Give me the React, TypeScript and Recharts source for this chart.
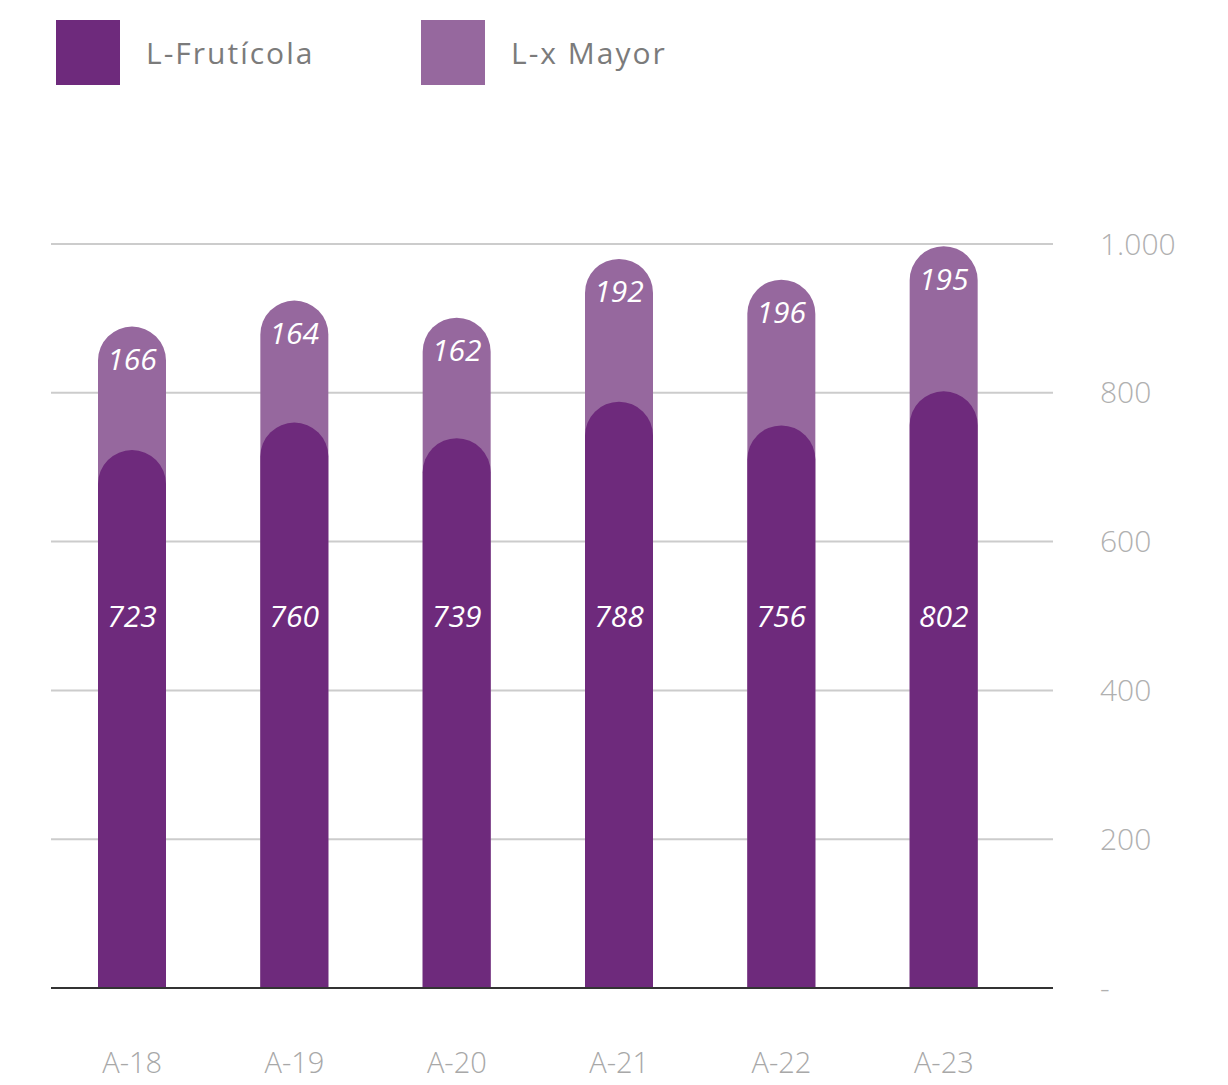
import React from 'react';
import { BarChart, Bar, XAxis, YAxis, CartesianGrid, LabelList } from 'recharts';

const years = ['A-18', 'A-19', 'A-20', 'A-21', 'A-22', 'A-23'];
const fruticola = [723, 760, 739, 788, 756, 802];
const mayor = [166, 164, 162, 192, 196, 195];
const yTicks = [0, 200, 400, 600, 800, 1000];

const DARK = '#6e2a7c';
const LIGHT = '#96689e';
const FONT = '"Open Sans", sans-serif';

const data = years.map((name, i) => ({
  name,
  fruticola: fruticola[i],
  mayor: mayor[i],
  total: fruticola[i] + mayor[i],
}));

const fmtTick = (v: number) => (v === 0 ? '-' : String(v).replace(/\B(?=(\d{3})+(?!\d))/g, '.'));

const DarkLabel = (props: any) => {
  const { x, y, width, height, value } = props;
  return (
    <text x={x + width / 2} y={y + height - 373} fill="#fff" fontSize={30} fontStyle="italic"
      fontFamily={FONT} textAnchor="middle" dominantBaseline="central">
      {value}
    </text>
  );
};

const LightLabel = (props: any) => {
  const { x, y, width, value } = props;
  return (
    <text x={x + width / 2} y={y + 32} fill="#fff" fontSize={30} fontStyle="italic"
      fontFamily={FONT} textAnchor="middle" dominantBaseline="central">
      {value}
    </text>
  );
};

const legendItems = [
  { label: 'L-Frutícola', color: DARK, left: 48 },
  { label: 'L-x Mayor', color: LIGHT, left: 413 },
];

export default function App() {
  return (
    <div style={{ position: 'relative', width: 1212, height: 1077, fontFamily: FONT }}>
      {legendItems.map((it) => (
        <div key={it.label} style={{ position: 'absolute', left: it.left, top: 12, display: 'flex', alignItems: 'center' }}>
          <div style={{ width: 64, height: 65, background: it.color }} />
          <span style={{ marginLeft: 26, fontSize: 30, color: '#7b7b7b', letterSpacing: 2 }}>{it.label}</span>
        </div>
      ))}
      <BarChart
        width={1212}
        height={1077}
        data={data}
        margin={{ top: 236, right: 47, left: 43, bottom: 0 }}
        barSize={68}
        barGap={-68}
      >
        <CartesianGrid vertical={false} stroke="#cccccc" strokeWidth={2} />
        <XAxis
          dataKey="name"
          height={97}
          padding={{ left: 0, right: 28 }}
          axisLine={{ stroke: '#333', strokeWidth: 2 }}
          tickLine={false}
          tickSize={0}
          tickMargin={64}
          tick={{ fill: '#a8a8a8', fontSize: 29, fontFamily: FONT, fontWeight: 300 }}
        />
        <YAxis
          orientation="right"
          width={120}
          domain={[0, 1000]}
          ticks={yTicks}
          tickFormatter={fmtTick}
          axisLine={false}
          tickLine={false}
          tickSize={0}
          tickMargin={47}
          tick={{ fill: '#b0b0b0', fontSize: 30, fontFamily: FONT, fontWeight: 300, textAnchor: 'start' }}
        />
        <Bar dataKey="total" fill={LIGHT} radius={[34, 34, 0, 0]} isAnimationActive={false}>
          <LabelList dataKey="mayor" content={LightLabel} />
        </Bar>
        <Bar dataKey="fruticola" fill={DARK} radius={[34, 34, 0, 0]} isAnimationActive={false}>
          <LabelList dataKey="fruticola" content={DarkLabel} />
        </Bar>
      </BarChart>
    </div>
  );
}
